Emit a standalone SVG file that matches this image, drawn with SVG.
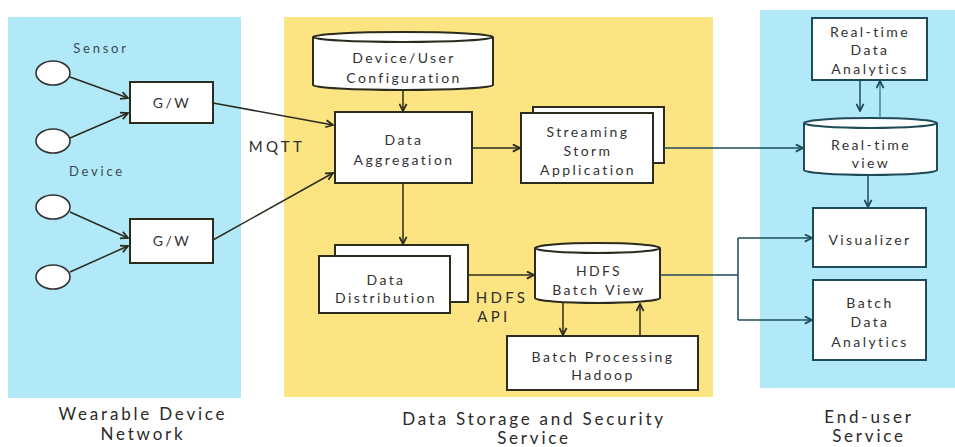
<svg xmlns="http://www.w3.org/2000/svg" width="955" height="447" viewBox="0 0 955 447">
<defs>
<marker id="ah" viewBox="0 0 10 10" refX="9" refY="5" markerWidth="9" markerHeight="9" markerUnits="userSpaceOnUse" orient="auto">
<path d="M1,1 L9,5 L1,9" fill="none" stroke="#2b2b1e" stroke-width="2"/>
</marker>
<marker id="ahb" viewBox="0 0 10 10" refX="9" refY="5" markerWidth="9" markerHeight="9" markerUnits="userSpaceOnUse" orient="auto">
<path d="M1,1 L9,5 L1,9" fill="none" stroke="#1f4a58" stroke-width="2"/>
</marker>
<style>
text{font-family:Lato,"Liberation Sans",sans-serif;font-size:14px;fill:#333;text-anchor:middle;letter-spacing:2.4px}
.lbl{font-size:17px;fill:#2a2a2a;letter-spacing:2.8px}
.sm{font-size:13px;letter-spacing:2.8px;fill:#3a4a55}
.cl{font-size:15px;letter-spacing:3.3px;fill:#2e2e2e}
.box{fill:#fff;stroke:#2b2b1e;stroke-width:2}
.boxb{fill:#fff;stroke:#1f4a58;stroke-width:2}
.ell{fill:#fff;stroke:#333;stroke-width:1.6}
.c{fill:none;stroke:#2b2b1e;stroke-width:1.5;marker-end:url(#ah)}
.cb{fill:none;stroke:#1f4a58;stroke-width:1.5;marker-end:url(#ahb)}
.ln{fill:none;stroke:#1f4a58;stroke-width:1.5}
</style>
</defs>
<rect width="955" height="447" fill="#ffffff"/>
<g id="panels">
<rect x="8" y="17" width="233" height="381" fill="#b1e9f8"/>
<rect x="284" y="17" width="429" height="380" fill="#fce482"/>
<rect x="760" y="10" width="195" height="378" fill="#b1e9f8"/>
</g>
<g id="panel-labels">
<text class="lbl" x="143" y="420">Wearable Device</text>
<text class="lbl" x="143" y="440">Network</text>
<text class="lbl" x="534" y="425">Data Storage and Security</text>
<text class="lbl" x="534" y="444">Service</text>
<text class="lbl" x="869" y="423">End-user</text>
<text class="lbl" x="869" y="442">Service</text>
</g>
<g id="sensors">
<text class="sm" x="101" y="53">Sensor</text>
<text class="sm" x="97" y="176">Device</text>
<ellipse class="ell" cx="53" cy="73" rx="17" ry="12"/>
<ellipse class="ell" cx="53" cy="141" rx="17" ry="12"/>
<ellipse class="ell" cx="53" cy="207" rx="17" ry="12"/>
<ellipse class="ell" cx="53" cy="277" rx="17" ry="12"/>
</g>
<g id="gw1"><rect class="box" x="130" y="82" width="83" height="41"/><text x="172" y="108">G/W</text></g>
<g id="gw2"><rect class="box" x="130" y="219" width="83" height="44"/><text x="172" y="246">G/W</text></g>
<g id="config">
<path class="box" d="M313,37 A90,5 0 0 1 493,37 L493,85 A90,5 0 0 1 313,85 Z"/>
<path d="M313,37 A90,5 0 0 0 493,37" fill="none" stroke="#2b2b1e" stroke-width="2"/>
<text x="404" y="63">Device/User</text><text x="404" y="83">Configuration</text>
</g>
<g id="aggregation"><rect class="box" x="335" y="112" width="137" height="71"/><text x="404" y="145">Data</text><text x="404" y="165">Aggregation</text></g>
<g id="streaming">
<rect class="box" x="533" y="107" width="131" height="56"/>
<rect class="box" x="521" y="113" width="132" height="70"/>
<text x="588" y="137">Streaming</text><text x="588" y="156">Storm</text><text x="588" y="175">Application</text>
</g>
<g id="distribution">
<rect class="box" x="335" y="245" width="133" height="57"/>
<rect class="box" x="319" y="256" width="131" height="57"/>
<text x="386" y="285">Data</text><text x="386" y="303">Distribution</text>
</g>
<g id="hdfs">
<path class="box" d="M535,248 A62.5,5 0 0 1 660,248 L660,298 A62.5,5 0 0 1 535,298 Z"/>
<path d="M535,248 A62.5,5 0 0 0 660,248" fill="none" stroke="#2b2b1e" stroke-width="2"/>
<text x="599" y="276">HDFS</text><text x="599" y="295">Batch View</text>
</g>
<g id="hadoop"><rect class="box" x="507" y="336" width="191" height="54"/><text x="603" y="362">Batch Processing</text><text x="603" y="380">Hadoop</text></g>
<g id="rt-analytics"><rect class="boxb" x="812" y="18" width="115" height="62"/><text x="870" y="37">Real-time</text><text x="870" y="55">Data</text><text x="870" y="74">Analytics</text></g>
<g id="rt-view">
<path class="boxb" d="M804,123 A66.5,5 0 0 1 937,123 L937,170 A66.5,5 0 0 1 804,170 Z"/>
<path d="M804,123 A66.5,5 0 0 0 937,123" fill="none" stroke="#1f4a58" stroke-width="2"/>
<text x="871" y="150">Real-time</text><text x="871" y="168">view</text>
</g>
<g id="visualizer"><rect class="boxb" x="813" y="208" width="113" height="59"/><text x="870" y="245">Visualizer</text></g>
<g id="batch-analytics"><rect class="boxb" x="813" y="280" width="113" height="80"/><text x="870" y="308">Batch</text><text x="870" y="327">Data</text><text x="870" y="347">Analytics</text></g>
<g id="connector-labels">
<text class="cl" x="277" y="152">MQTT</text>
<text class="cl" x="502" y="303">HDFS</text>
<text class="cl" x="494" y="322">API</text>
</g>
<g id="connectors">
<path class="c" d="M70,77 L128,98"/>
<path class="c" d="M70,138 L128,113"/>
<path class="c" d="M70,212 L128,238"/>
<path class="c" d="M70,272 L128,246"/>
<path class="c" d="M213,103 L333,125"/>
<path class="c" d="M213,240 L333,173"/>
<path class="c" d="M403,90 L403,111"/>
<path class="c" d="M472,148 L520,148"/>
<path class="c" d="M403,183 L403,244"/>
<path class="c" d="M468,275 L534,275"/>
<path class="c" d="M563,303 L563,335"/>
<path class="c" d="M640,336 L640,304"/>
<path class="cb" d="M664,148 L803,148"/>
<path class="ln" d="M660,275 L738,275 M738,238 L738,320"/>
<path class="cb" d="M738,238 L812,238"/>
<path class="cb" d="M738,320 L812,320"/>
<path class="cb" d="M860,80 L860,111"/>
<path class="cb" d="M880,118 L880,81" style="stroke:#3d8a9a"/>
<path class="cb" d="M868,175 L868,207"/>
</g>
</svg>
